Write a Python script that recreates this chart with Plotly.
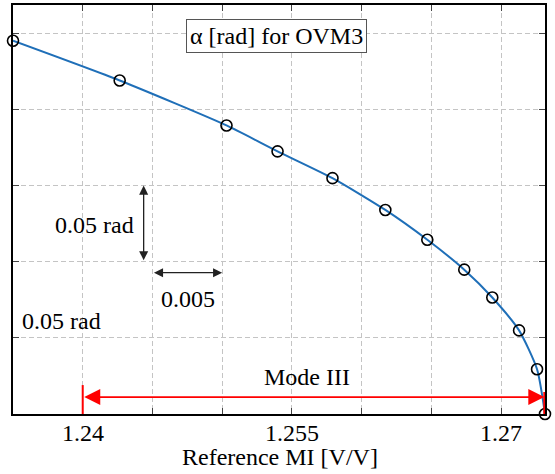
import plotly.graph_objects as go

# Data
mi = [1.2350, 1.24265, 1.25031, 1.25397, 1.25791, 1.2617, 1.26471, 1.26736, 1.26937, 1.27129, 1.27258, 1.27315]
alpha = [0.2451, 0.2190, 0.1895, 0.1725, 0.1549, 0.1340, 0.1144, 0.0948, 0.0765, 0.0549, 0.0294, 0.0]

x_grid = [1.235, 1.24, 1.245, 1.25, 1.255, 1.26, 1.265, 1.27]
x_label_vals = [1.24, 1.255, 1.27]
x_label_text = ["1.24", "1.255", "1.27"]
y_grid = [0, 0.05, 0.10, 0.15, 0.20, 0.25]

FONT = "'Liberation Serif', 'Times New Roman', serif"
FS = 24
fig = go.Figure()
fig.add_trace(go.Scatter(x=mi, y=alpha, mode="lines", line=dict(color="#1f6fb8", width=2, shape="spline", smoothing=0.6),
                         showlegend=False, hoverinfo="skip"))
fig.add_trace(go.Scatter(x=mi, y=alpha, mode="markers", cliponaxis=False,
                         marker=dict(symbol="circle-open", size=11, color="black", line=dict(width=1.6, color="black")),
                         showlegend=False))

x0, x1 = 1.235, 1.27315
fig.update_layout(
    width=555, height=474,
    margin=dict(l=13, r=10, t=3, b=60),
    paper_bgcolor="white", plot_bgcolor="white",
    font=dict(family=FONT, size=FS, color="black"),
    xaxis=dict(range=[x0, x1], tickvals=x_grid, showticklabels=False, ticks="inside", ticklen=6,
               showgrid=True, gridcolor="#c4c4c4", griddash="5px,3px", gridwidth=1,
               showline=True, linecolor="black", linewidth=2, mirror="ticks", zeroline=False),
    yaxis=dict(range=[0, 0.2686], tickvals=y_grid, showticklabels=False, ticks="inside", ticklen=6,
               showgrid=True, gridcolor="#c4c4c4", griddash="5px,3px", gridwidth=1,
               showline=True, linecolor="black", linewidth=2, mirror="ticks", zeroline=False),
)

anns = []
# x tick labels (placed on the x scale)
for v, t in zip(x_label_vals, x_label_text):
    anns.append(dict(x=v, y=-0.0462, xref="x", yref="paper", text=t, showarrow=False, yanchor="middle"))
# x-axis title
anns.append(dict(x=0.502, y=-0.1046, xref="paper", yref="paper", text="Reference MI [V/V]", showarrow=False,
                 yanchor="middle"))
# title box
anns.append(dict(x=1.25393, y=0.2485, xref="x", yref="y", text="α [rad] for OVM3", showarrow=False,
                 font=dict(size=FS), bordercolor="#555555", borderwidth=1, borderpad=3, bgcolor="white"))
# vertical scale arrow
anns.append(dict(x=1.24437, y=0.15, ax=1.24437, ay=0.10, xref="x", yref="y", axref="x", ayref="y", text="",
                 showarrow=True, arrowside="end+start", arrowhead=2, arrowsize=1.4, arrowwidth=1.3, arrowcolor="#222222"))
anns.append(dict(x=1.2438, y=0.124, xref="x", yref="y", text="0.05 rad", showarrow=False, xanchor="right"))
# horizontal scale arrow
anns.append(dict(x=1.25, y=0.0928, ax=1.245, ay=0.0928, xref="x", yref="y", axref="x", ayref="y", text="",
                 showarrow=True, arrowside="end+start", arrowhead=2, arrowsize=1.4, arrowwidth=1.3, arrowcolor="#222222"))
anns.append(dict(x=1.24752, y=0.0758, xref="x", yref="y", text="0.005", showarrow=False))
anns.append(dict(x=1.2385, y=0.0614, xref="x", yref="y", text="0.05 rad", showarrow=False))
# Mode III arrow
anns.append(dict(x=1.2731, y=0.0111, ax=1.2400, ay=0.0111, xref="x", yref="y", axref="x", ayref="y", text="",
                 showarrow=True, arrowside="end+start", arrowhead=2, arrowsize=2.0, arrowwidth=1.6, arrowcolor="#ff0000"))
anns.append(dict(x=1.25605, y=0.0245, xref="x", yref="y", text="Mode III", showarrow=False))
fig.update_layout(annotations=anns)

fig.add_shape(type="line", x0=1.24, x1=1.24, y0=0, y1=0.019, xref="x", yref="y", line=dict(color="#ff0000", width=2))
fig.add_shape(type="line", x0=1.2731, x1=1.2731, y0=0, y1=0.0144, xref="x", yref="y", line=dict(color="#ff0000", width=2))

fig.write_html("out.html")
